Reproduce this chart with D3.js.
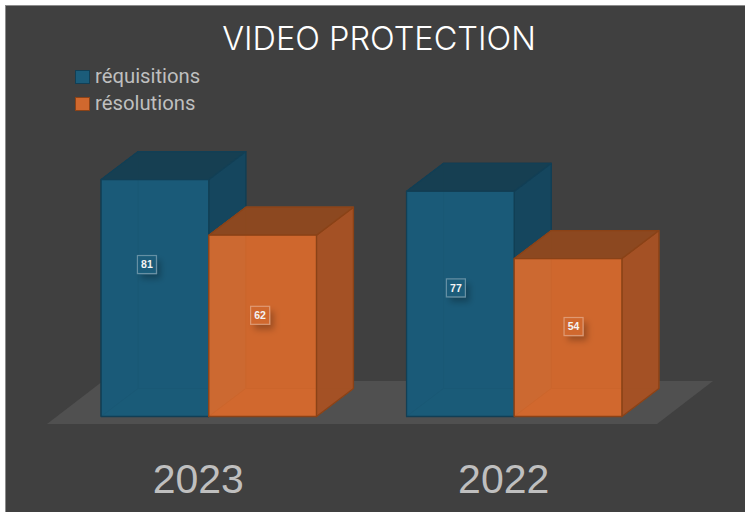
<!DOCTYPE html>
<html>
<head>
<meta charset="utf-8">
<script src="https://cdn.jsdelivr.net/npm/d3@7/dist/d3.min.js"></script>
<style>
html,body{margin:0;padding:0;background:#fff;overflow:hidden}
svg{display:block}
</style>
</head>
<body>
<svg id="chart" width="745" height="512"></svg>
<script>
const years = ["2023", "2022"];
const seriesNames = ["réquisitions", "résolutions"];
const requisitions = [81, 77];
const resolutions = [62, 54];
const chartTitle = "VIDEO PROTECTION";

// Hand-placed label shifts from the centre of each bar's front face: [dx, dy]
const labelShifts = [
  [[-8, -33.5], [-2.5, -10.5]],
  [[-4.5, -16], [5.5, -11]]
];

const palette = {
  "réquisitions": {front: "#1b5c7a", top: "#163f52", side: "#15465e", edge: "#123f55",
                   back: "#124d69", left: "#124d69", floor: "#14506c", hidden: "#0a3a50"},
  "résolutions":  {front: "#d0682e", top: "#8b4720", side: "#a35125", edge: "#8a4217",
                   back: "#c4622b", left: "#ad7048", floor: "#d06d33", hidden: "#a8561f"}
};

const depth = {x: 37, y: 28};
const svg = d3.select("#chart");

const defs = svg.append("defs");
const shadow = defs.append("filter").attr("id", "labelShadow")
  .attr("x", "-60%").attr("y", "-60%").attr("width", "260%").attr("height", "260%");
shadow.append("feDropShadow")
  .attr("dx", 4).attr("dy", 5).attr("stdDeviation", 3.2)
  .attr("flood-color", "#000").attr("flood-opacity", 0.25);

// Panel
svg.append("rect").attr("x", 5.5).attr("y", 5.5).attr("width", 745).attr("height", 512)
  .attr("fill", "#404040").attr("stroke", "#8c8c8c").attr("stroke-width", 1);

const x = d3.scaleBand().domain(years).range([11, 712]).paddingInner(0.295).paddingOuter(0.295);
const xSeries = d3.scaleBand().domain(seriesNames).range([0, x.bandwidth()]);
const y = d3.scaleLinear().domain([0, 100]).range([416.5, 124]);

// Floor of the 3D plot
const floorPoly = [[47, 424], [657, 424], [713, 381], [103, 381]];
svg.append("polygon").attr("points", floorPoly.join(" ")).attr("fill", "#505050");

const line = d3.line();
const bars = years.flatMap((year, i) => [
  {year, i, j: 0, name: seriesNames[0], value: requisitions[i]},
  {year, i, j: 1, name: seriesNames[1], value: resolutions[i]}
]);

const barGroups = svg.selectAll("g.bar").data(bars).join("g").attr("class", "bar");

barGroups.each(function (d) {
  const g = d3.select(this);
  const c = palette[d.name];
  const x0 = x(d.year) + xSeries(d.name);
  const x1 = x0 + xSeries.bandwidth();
  const y0 = y(0), y1 = y(d.value);
  const dx = depth.x, dy = depth.y;
  const face = (pts, fill, opacity, edge, width) => g.append("path")
    .attr("d", line(pts) + "Z")
    .attr("fill", fill).attr("fill-opacity", opacity)
    .attr("stroke", edge).attr("stroke-width", width).attr("stroke-linejoin", "round");

  // Hidden faces first: they show faintly through the translucent front
  face([[x0 + dx, y1 - dy], [x1 + dx, y1 - dy], [x1 + dx, y0 - dy], [x0 + dx, y0 - dy]], c.back, 1, c.hidden, 1);
  face([[x0, y1], [x0 + dx, y1 - dy], [x0 + dx, y0 - dy], [x0, y0]], c.left, 1, c.hidden, 1);
  face([[x0, y0], [x1, y0], [x1 + dx, y0 - dy], [x0 + dx, y0 - dy]], c.floor, 1, c.hidden, 1);

  face([[x1, y1], [x1 + dx, y1 - dy], [x1 + dx, y0 - dy], [x1, y0]], c.side, 0.98, c.edge, 1.3);
  face([[x0, y1], [x1, y1], [x1 + dx, y1 - dy], [x0 + dx, y1 - dy]], c.top, 0.98, c.edge, 1.3);
  face([[x0, y1], [x1, y1], [x1, y0], [x0, y0]], c.front, 0.88, c.edge, 1.3);
});

// Value labels sit above every bar
const labels = svg.selectAll("g.value").data(bars).join("g").attr("class", "value")
  .attr("transform", d => {
    const cx = x(d.year) + xSeries(d.name) + xSeries.bandwidth() / 2;
    const cy = (y(0) + y(d.value)) / 2;
    const [sx, sy] = labelShifts[d.i][d.j];
    return `translate(${cx + sx},${cy + sy})`;
  });
labels.append("rect")
  .attr("x", -9.5).attr("y", -9).attr("width", 19).attr("height", 18)
  .attr("fill", d => palette[d.name].front)
  .attr("stroke", "rgba(255,255,255,0.33)").attr("stroke-width", 1.2)
  .attr("filter", "url(#labelShadow)");
labels.append("text")
  .attr("text-anchor", "middle").attr("y", 3.8)
  .attr("font-family", "'Liberation Sans', sans-serif")
  .attr("font-weight", 700).attr("font-size", 10.5).attr("fill", "#f4f4f4")
  .text(d => d.value);

// Category axis: labels only
const axis = d3.axisBottom(x).tickSize(0).tickPadding(0);
const axisG = svg.append("g").attr("transform", "translate(-10.5,464)").call(axis);
axisG.select(".domain").remove();
axisG.selectAll("text")
  .attr("font-family", "'Liberation Sans', sans-serif")
  .attr("font-size", 41).attr("fill", "#bfbfbf");

// Title
svg.append("text").attr("x", 379).attr("y", 50)
  .attr("text-anchor", "middle")
  .attr("font-family", "Inter, sans-serif").attr("font-weight", 300)
  .attr("font-size", 32.5).attr("fill", "#fff")
  .text(chartTitle);

// Legend
const legend = svg.selectAll("g.legend").data(seriesNames).join("g").attr("class", "legend")
  .attr("transform", (d, i) => `translate(75,${70 + i * 27})`);
legend.append("rect").attr("x", 0.5).attr("y", 0.5).attr("width", 14).attr("height", 13)
  .attr("fill", d => palette[d].front).attr("stroke", d => palette[d].edge);
legend.append("text").attr("x", 20).attr("y", 13)
  .attr("font-family", "Roboto, sans-serif").attr("font-size", 20.3).attr("fill", "#bfbfbf")
  .text(d => d);
</script>
</body>
</html>
